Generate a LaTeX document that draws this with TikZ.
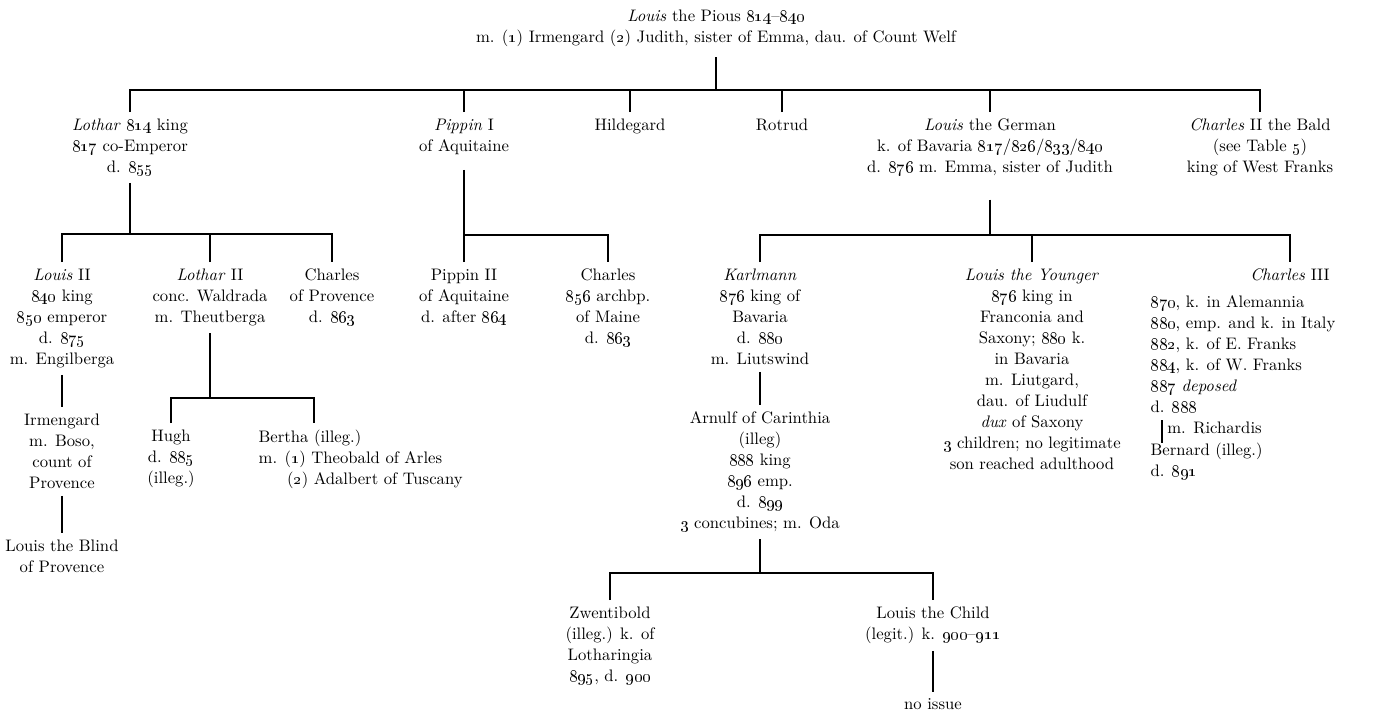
\documentclass[tikz,border=0pt]{standalone}
\usepackage{tikz}
\newcommand{\yr}[1]{\oldstylenums{#1}}

\begin{document}
\begin{tikzpicture}[x=0.6pt,y=-0.6pt,
        person/.style={align=center, anchor=north, inner xsep=2pt, inner ysep=4pt,
                       font=\fontsize{10}{12.6}\selectfont},
        note/.style={person, align=left, anchor=north west},
        tree/.style={line width=0.9pt}]
            \useasboundingbox (0,0) rectangle (1384,716);
            \coordinate (b1) at (0,90);
            \coordinate (b2) at (0,234);
            \coordinate (b3) at (0,235);
            \coordinate (b4) at (0,398);
            \coordinate (b5) at (0,573);
        % Louis the Pious and children
            \node [person] (pious) at (716,3) {\emph{Louis} the Pious \yr{814}--\yr{840}\\
                m. (\yr{1}) Irmengard (\yr{2}) Judith, sister of Emma, dau. of Count Welf};
            \node [person] (lothar) at (130,112) {\emph{Lothar} \yr{814} king\\\yr{817} co-Emperor\\d. \yr{855}};
            \node [person] (pippin) at (464,112) {\emph{Pippin} I\\of Aquitaine};
            \node [person] (hildegard) at (630,112) {Hildegard};
            \node [person] (rotrud) at (782,112) {Rotrud};
            \node [person] (lgerman) at (990,112) {\emph{Louis} the German\\
                k. of Bavaria \yr{817}/\yr{826}/\yr{833}/\yr{840}\\d. \yr{876} m. Emma, sister of Judith};
            \node [person] (charlesii) at (1260,112) {\emph{Charles} II the Bald\\(see Table \yr{5})\\king of West Franks};
            \draw [tree] ([yshift=-2pt]pious.south) -- (pious |- b1);
            \draw [tree] (lothar.north) -- (lothar |- b1) -- (charlesii |- b1) -- (charlesii.north);
            \foreach \n in {pippin,hildegard,rotrud,lgerman}
                \draw [tree] (\n.north) -- (\n |- b1);
        % Lothar
            \node [person] (louisii) at (62,262) {\emph{Louis} II\\\yr{840} king\\\yr{850} emperor\\d. \yr{875}\\m. Engilberga};
            \node [person] (lotharii) at (210,262) {\emph{Lothar} II\\conc. Waldrada\\m. Theutberga};
            \node [person] (charlesprov) at (332,262) {Charles\\of Provence\\d. \yr{863}};
            \draw [tree] (lothar.south) -- (lothar |- b2);
            \draw [tree] (louisii.north) -- (louisii |- b2) -- (charlesprov |- b2) -- (charlesprov.north);
            \draw [tree] (lotharii.north) -- (lotharii |- b2);
            \node [person] (irmengard) at (62,407) {Irmengard\\m. Boso,\\count of\\Provence};
            \node [person] (blind) at (62,533) {Louis the Blind\\of Provence};
            \draw [tree] (louisii.south) -- (irmengard.north);
            \draw [tree] (irmengard.south) -- (blind.north);
            \node [person] (hugh) at (171,423) {Hugh\\d. \yr{885}\\(illeg.)};
            \node [note] (bertha) at (255,423) {Bertha (illeg.)\\m. (\yr{1}) Theobald of Arles\\
                \hspace*{17pt}(\yr{2}) Adalbert of Tuscany};
            \coordinate (berthadrop) at (314,423);
            \draw [tree] (lotharii.south) -- (lotharii |- b4);
            \draw [tree] (hugh.north) -- (hugh |- b4) -- (berthadrop |- b4) -- (berthadrop);
        % Pippin
            \node [person] (pippinii) at (464,262) {Pippin II\\of Aquitaine\\d. after \yr{864}};
            \node [person] (charlesmaine) at (608,262) {Charles\\\yr{856} archbp.\\of Maine\\d. \yr{863}};
            \draw [tree] ([yshift=-5pt]pippin.south) -- (pippin |- b3) -- (charlesmaine |- b3) -- (charlesmaine.north);
            \draw [tree] (pippinii.north) -- (pippinii |- b3);
        % Louis the German
            \node [person] (karlmann) at (760,262) {\emph{Karlmann}\\\yr{876} king of\\Bavaria\\d. \yr{880}\\m. Liutswind};
            \node [person] (lyounger) at (1032,262) {\emph{Louis the Younger}\\\yr{876} king in\\Franconia and\\
                Saxony; \yr{880} k.\\in Bavaria\\m. Liutgard,\\dau. of Liudulf\\\emph{dux} of Saxony\\
                \yr{3} children; no legitimate\\son reached adulthood};
            \node [person] (charlesiii) at (1290,262) {\emph{Charles} III};
            \draw [tree] ([yshift=-10pt]lgerman.south) -- (lgerman |- b3);
            \draw [tree] (karlmann.north) -- (karlmann |- b3) -- (charlesiii |- b3) -- (charlesiii.north);
            \draw [tree] (lyounger.north) -- (lyounger |- b3);
            \node [note] (c3info) at (1147,289) {\yr{870}, k. in Alemannia\\\yr{880}, emp. and k. in Italy\\
                \yr{882}, k. of E. Franks\\\yr{884}, k. of W. Franks\\\emph{\yr{887} deposed}\\d. \yr{888}};
            \node [person, anchor=west, inner xsep=3pt] (richardis) at (1162,428) {m. Richardis};
            \node [note] (bernard) at (1147,436) {Bernard (illeg.)\\d. \yr{891}};
            \draw [tree, shorten >=-4pt] (richardis.west |- c3info.south) -- (richardis.west |- bernard.north);
        % Karlmann
            \node [person] (arnulf) at (760,405) {Arnulf of Carinthia\\(illeg)\\\yr{888} king\\\yr{896} emp.\\
                d. \yr{899}\\\yr{3} concubines; m. Oda};
            \node [person] (zwentibold) at (610,600) {Zwentibold\\(illeg.) k. of\\Lotharingia\\\yr{895}, d. \yr{900}};
            \node [person] (lchild) at (933,600) {Louis the Child\\(legit.) k. \yr{900}--\yr{911}};
            \node [person] (noissue) at (933,692) {no issue};
            \draw [tree] (karlmann.south) -- (arnulf.north);
            \draw [tree] (arnulf.south) -- (arnulf |- b5);
            \draw [tree] (zwentibold.north) -- (zwentibold |- b5) -- (lchild |- b5) -- (lchild.north);
            \draw [tree] (lchild.south) -- (noissue.north);
        \end{tikzpicture}
\end{document}
